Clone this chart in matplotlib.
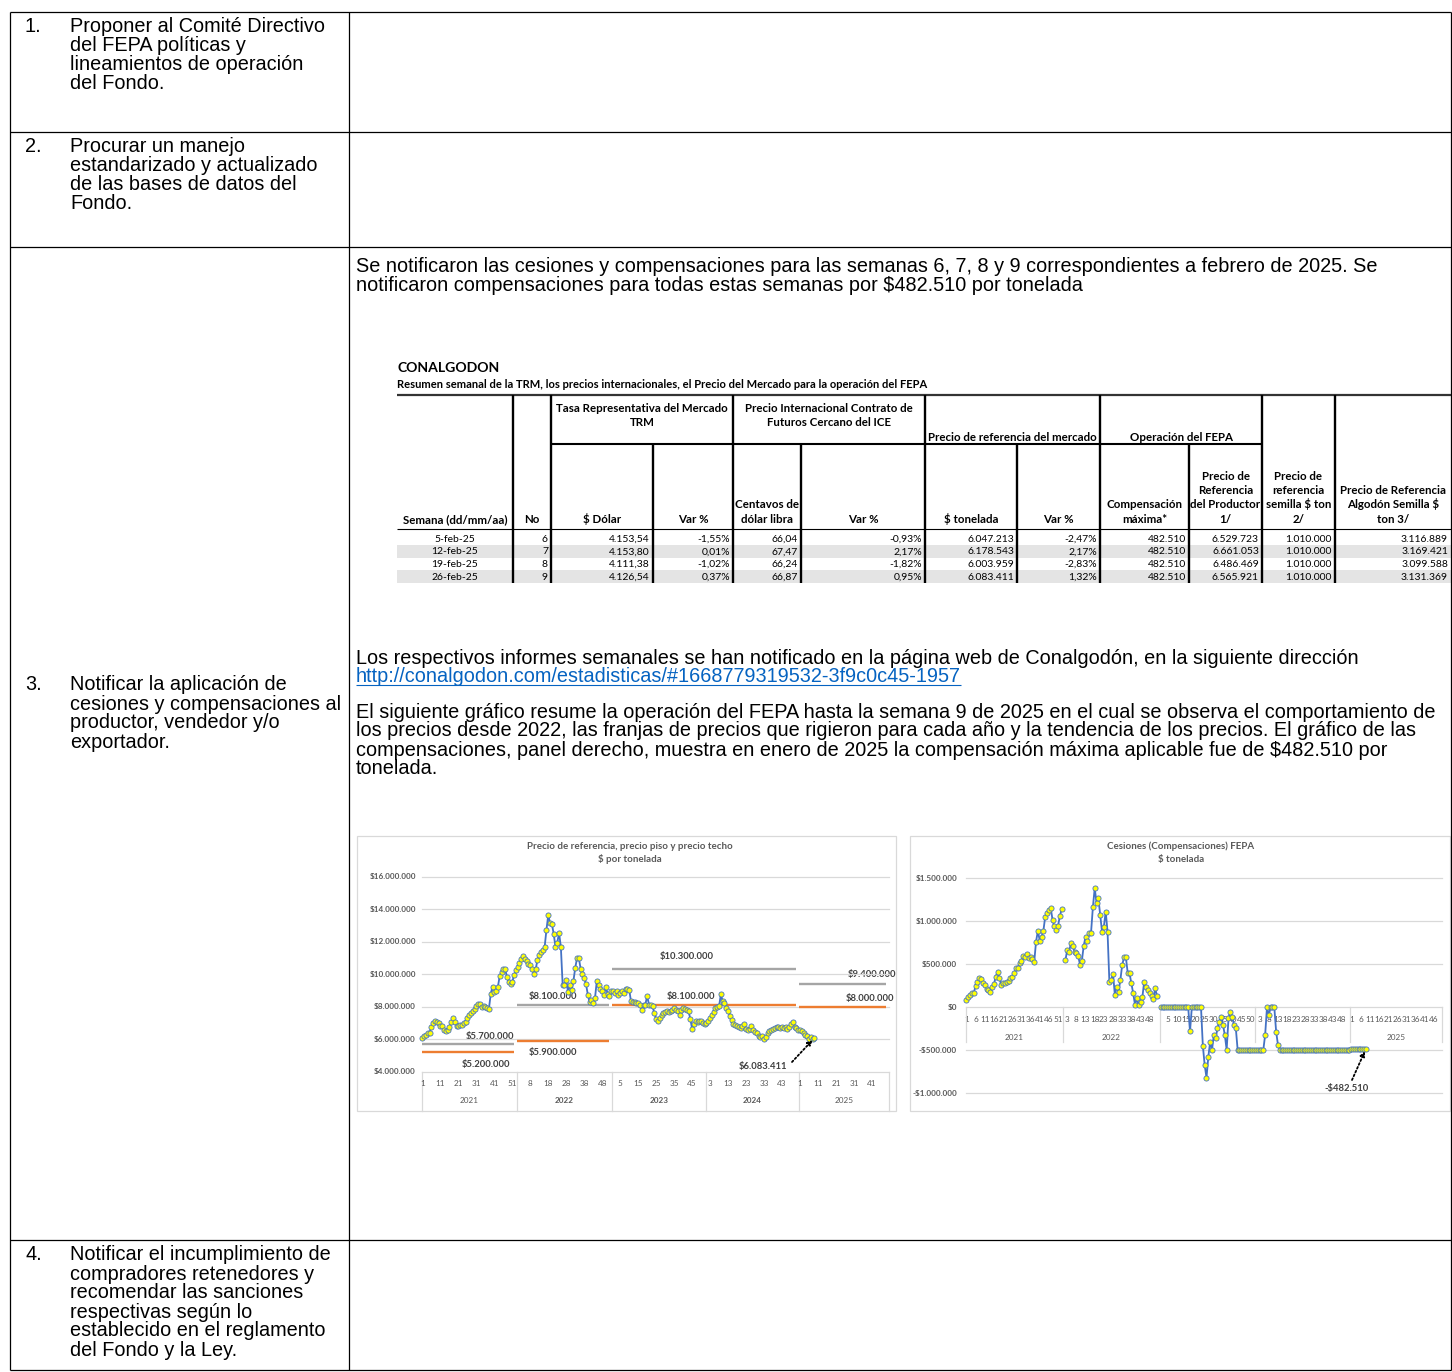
import numpy as np
import matplotlib
matplotlib.use("Agg")
import matplotlib.pyplot as plt
from matplotlib.font_manager import FontProperties
from matplotlib.transforms import Bbox, blended_transform_factory as btf
from matplotlib.patches import Rectangle

plt.rcParams['text.parse_math'] = False

# ------------------------------------------------------------------ data
years = ["2021", "2022", "2023", "2024", "2025"]
weeks_per_year = [53, 53, 52, 52, 50]

# Reference price, millions of $ per ton (weekly)
precio_2021 = [6.06, 6.20, 6.30, 6.37, 6.42, 6.75, 7.00, 7.14, 7.10, 7.00,
               6.85, 6.80, 6.60, 6.50, 6.55, 6.75, 7.05, 7.30, 7.05, 6.80,
               6.85, 6.88, 6.90, 7.00, 7.10, 7.30, 7.50, 7.60, 7.75, 7.85,
               8.05, 8.15, 8.20, 8.00, 8.05, 8.00, 7.92, 7.88, 8.80, 9.25,
               8.90, 9.00, 9.25, 9.90, 10.15, 10.30, 10.35, 9.85, 9.50, 9.40,
               9.55, 9.95, 10.25]
precio_2022 = [10.45, 10.70, 10.95, 11.10, 10.95, 10.80, 10.65, 10.55, 10.30, 10.05,
               10.30, 10.90, 11.20, 11.40, 11.50, 11.70, 12.75, 13.65, 13.15, 13.10,
               12.50, 11.70, 11.95, 12.55, 11.70, 9.35, 9.35, 9.65, 8.90, 9.35,
               9.05, 9.60, 10.40, 11.00, 11.00, 10.35, 10.05, 9.75, 9.40, 8.75,
               8.30, 8.40, 8.25, 8.55, 9.60, 9.35, 9.10, 8.95, 8.75, 9.25,
               8.80, 8.70, 9.00]
precio_2023 = [8.95, 8.86, 8.96, 8.76, 8.85, 8.96, 8.86, 9.10, 9.08, 9.06,
               8.35, 8.29, 8.30, 8.24, 8.24, 8.14, 7.80, 8.14, 8.14, 8.69,
               8.14, 8.10, 8.05, 7.60, 7.27, 7.12, 7.33, 7.50, 7.60, 7.67,
               7.73, 7.67, 7.75, 7.80, 7.94, 7.84, 7.73, 7.53, 7.84, 7.94,
               7.90, 7.84, 7.73, 7.27, 6.65, 6.92, 7.12, 7.10, 7.12, 7.14,
               7.02, 6.95]
precio_2024 = [7.00, 7.15, 7.30, 7.50, 7.70, 7.94, 8.00, 8.05, 8.78, 8.35,
               8.24, 7.94, 7.73, 7.47, 7.18, 6.92, 6.88, 6.82, 6.75, 6.71,
               6.80, 6.92, 6.65, 6.57, 6.65, 6.82, 6.57, 6.45, 6.37, 6.20,
               6.16, 6.24, 6.04, 6.16, 6.40, 6.50, 6.57, 6.65, 6.71, 6.75,
               6.78, 6.71, 6.78, 6.71, 6.78, 6.65, 6.78, 6.92, 7.06, 6.78,
               6.71, 6.61]
precio_2025 = [6.60, 6.50, 6.42, 6.30, 6.20, 6.047213, 6.178543, 6.003959, 6.083411]

# price bands (millions): ceiling / floor for each period
franja_years = [["2021"], ["2022"], ["2023", "2024"], ["2025"]]
techo = [5.7, 8.1, 10.3, 9.4]
piso = [5.2, 5.9, 8.1, 8.0]

# Compensations / cessions, thousands of $ per ton (NaN = no value)
nan = float("nan")
comp_2021 = [85, 125, 140, 170, 165, 250, 300, 345, 330, 280,
             265, 210, 200, 180, 240, 268, 355, 415, 345, 255,
             278, 280, 290, 310, 345, 348, 395, 455, 462, 512,
             535, 598, 590, 615, 572, 588, 562, 530, 765, 890,
             775, 820, 890, 1055, 1100, 1130, 1155, 1015, 940, 900,
             950, 1060, 1145]
comp_2022 = [nan, 545, 667, 647, 744, 713, 647, 628, 597, 492,
             543, 713, 822, 775, 860, 868, 1163, 1384, 1217, 1267,
             1074, 880, 938, 1112, 880, 298, 318, 388, 143, 240,
             182, 318, 492, 581, 581, 403, 395, 279, 163, 27,
             105, 27, 66, 116, 298, 240, 202, 171, 132, 93,
             221, 132, nan]
comp_2023 = [0, 0, 0, 0, 0, 0, 0, 0, 0, 0,
             0, 0, 0, 0, 0, 0, -280, 0, 0, 0,
             0, 0, 0, -446, -670, -818, -574, -400, -496, -322,
             -360, -244, -167, -108, -205, -322, -496, -128, -50, -108,
             -205, -244, -496, -495, -495, -495, -495, -495, -495, -495,
             -495, -495]
comp_2024 = [-495, -495, -495, -495, -495, -322, 0, -90, 0, 0,
             0, -283, -438, -495, -495, -495, -495, -495, -495, -495,
             -495, -495, -495, -495, -495, -495, -495, -495, -495, -495,
             -495, -495, -495, -495, -495, -495, -495, -495, -495, -495,
             -495, -495, -495, -495, -495, -495, -495, -495, -495, -495,
             -495, -495]
comp_2025 = [-482.51, -482.51, -482.51, -482.51, -482.51, -482.51, -482.51, -482.51, -482.51]

# weekly summary table
tabla_semana = ["5-feb-25", "12-feb-25", "19-feb-25", "26-feb-25"]
tabla_no = [6, 7, 8, 9]
tabla_trm = [4153.54, 4153.80, 4111.38, 4126.54]
tabla_trm_var = [-1.55, 0.01, -1.02, 0.37]
tabla_cent = [66.04, 67.47, 66.24, 66.87]
tabla_cent_var = [-0.93, 2.17, -1.82, 0.95]
tabla_ton = [6047213, 6178543, 6003959, 6083411]
tabla_ton_var = [-2.47, 2.17, -2.83, 1.32]
tabla_comp = [482510, 482510, 482510, 482510]
tabla_prod = [6529723, 6661053, 6486469, 6565921]
tabla_semilla = [1010000, 1010000, 1010000, 1010000]
tabla_algodon = [3116889, 3169421, 3099588, 3131369]

col_headers = [["Semana (dd/mm/aa)"], ["No"], ["$ Dólar"], ["Var %"],
               ["Centavos de", "dólar libra"], ["Var %"], ["$ tonelada"], ["Var %"],
               ["Compensación", "máxima*"],
               ["Precio de", "Referencia", "del Productor", "1/"],
               ["Precio de", "referencia", "semilla $ ton", "2/"],
               ["Precio de Referencia", "Algodón Semilla $", "ton 3/"]]
group_headers = [(2, 3, ["Tasa Representativa del Mercado", "TRM"]),
                 (4, 5, ["Precio Internacional Contrato de", "Futuros Cercano del ICE"]),
                 (6, 7, ["Precio de referencia del mercado"]),
                 (8, 9, ["Operación del FEPA"])]

left_items = [("1.", ["Proponer al Comité Directivo", "del FEPA políticas y",
                      "lineamientos de operación", "del Fondo."]),
              ("2.", ["Procurar un manejo", "estandarizado y actualizado",
                      "de las bases de datos del", "Fondo."]),
              ("3.", ["Notificar la aplicación de", "cesiones y compensaciones al",
                      "productor, vendedor y/o", "exportador."]),
              ("4.", ["Notificar el incumplimiento de", "compradores retenedores y",
                      "recomendar las sanciones", "respectivas según lo",
                      "establecido en el reglamento", "del Fondo y la Ley."])]

parrafo1 = ["Se notificaron las cesiones y compensaciones para las semanas 6, 7, 8 y 9 correspondientes a febrero de 2025. Se",
            "notificaron compensaciones para todas estas semanas por $482.510 por tonelada"]
parrafo2 = "Los respectivos informes semanales se han notificado en la página web de Conalgodón, en la siguiente dirección"
url = "http://conalgodon.com/estadisticas/#1668779319532-3f9c0c45-1957"
parrafo3 = ["El siguiente gráfico resume la operación del FEPA hasta la semana 9 de 2025 en el cual se observa el comportamiento de",
            "los precios desde 2022, las franjas de precios que rigieron para cada año y la tendencia de los precios. El gráfico de las",
            "compensaciones, panel derecho, muestra en enero de 2025 la compensación máxima aplicable fue de $482.510 por",
            "tonelada."]

# ------------------------------------------------------------------ helpers
def fmt_int(n):
    return "{:,}".format(int(round(n))).replace(",", ".")

def fmt_dec(x, d=2):
    s = ("{:,." + str(d) + "f}").format(x)
    return s.replace(",", "X").replace(".", ",").replace("X", ".")

def fmt_money(v):
    return ("-$" if v < 0 else "$") + fmt_int(abs(v))

W, H = 1452, 1372
fig = plt.figure(figsize=(W / 100, H / 100), dpi=100, facecolor="white")
page = fig.add_axes([0, 0, 1, 1])
page.set_xlim(0, W)
page.set_ylim(H, 0)
page.axis("off")
renderer = fig.canvas.get_renderer()

def text_w(s, family, weight, size):
    fp = FontProperties(family=family, weight=weight, size=size)
    w, h, d = renderer.get_text_width_height_descent(s, fp, False)
    return w

def fit_size(s, family, weight, target):
    return 10.0 * target / text_w(s, family, weight, 10.0)

DOC = "Liberation Sans"
XL = "Lato"
doc_size = 0.5 * (fit_size(parrafo3[0], DOC, "normal", 1088)
                  + fit_size("cesiones y compensaciones al", DOC, "normal", 267))
tb_bold = fit_size("Precio de referencia del mercado", XL, "bold", 169)
tb_reg = fit_size("3.116.889", XL, "normal", 47)
conal_size = fit_size("CONALGODON", XL, "bold", 102)
sub_size = fit_size("Resumen semanal de la TRM, los precios internacionales, el Precio del Mercado para la operación del FEPA", XL, "bold", 530)
ch_title = fit_size("Precio de referencia, precio piso y precio techo", XL, "bold", 204)
ch_ann = fit_size("$5.700.000", XL, "bold", 49)
ch_tick = fit_size("$1.500.000", XL, "bold", 42)

def T(x, y, s, size, family=DOC, weight="normal", color="black", ha="left", va="baseline", **kw):
    return page.text(x, y, s, fontsize=size, family=family, weight=weight,
                     color=color, ha=ha, va=va, **kw)

def L(x0, y0, x1, y1, lw=0.8, color="black", z=2):
    page.plot([x0, x1], [y0, y1], color=color, lw=lw, solid_capstyle="butt", zorder=z)

# ------------------------------------------------------------------ outer document table
XB0, XB1, XDIV = 10, 1451, 348.5
row_lines = [11.5, 131.5, 247, 1240, 1370]
for y in row_lines:
    L(XB0, y, XB1, y, lw=0.9)
for x in (XB0, XDIV, XB1):
    L(x, row_lines[0], x, row_lines[-1], lw=0.9)

first_base = [32, 152, 690.5, 1260.5]
for (num, lines), yb in zip(left_items, first_base):
    T(25, yb, num, doc_size)
    for k, s in enumerate(lines):
        T(70, yb + 19 * k, s, doc_size)

for k, s in enumerate(parrafo1):
    T(356, 272 + 19 * k, s, doc_size)
T(356, 663.5, parrafo2, doc_size)
T(356, 682.5, url, doc_size, color="#0563C1")
uw = text_w(url, DOC, "normal", doc_size)
L(356, 684.5, 356 + uw, 684.5, lw=0.8, color="#0563C1")
for k, s in enumerate(parrafo3):
    T(356, 717.5 + 19 * k, s, doc_size)

# ------------------------------------------------------------------ inner summary table
T(398, 372, "CONALGODON", conal_size, family=XL, weight="bold")
T(397, 388, "Resumen semanal de la TRM, los precios internacionales, el Precio del Mercado para la operación del FEPA",
  sub_size, family=XL, weight="bold")
edges = [397, 513, 551, 653, 733, 801, 925, 1017, 1100, 1189, 1262, 1335, 1451]
row_edges = [528.5, 545, 557.7, 570.4, 583]
for r in (1, 3):
    page.add_patch(Rectangle((edges[0], row_edges[r]), edges[-1] - edges[0],
                             row_edges[r + 1] - row_edges[r], facecolor="#E4E4E4",
                             edgecolor="none", zorder=1))
L(edges[0], 394.5, edges[-1], 394.5, lw=1.6, color="#333333")
L(edges[2], 444, edges[10], 444, lw=1.5)
L(edges[0], 528.5, edges[-1], 528.5, lw=0.8)
for j in (1, 2, 4, 6, 8, 10, 11):
    L(edges[j], 394.5, edges[j], 583, lw=1.7)
for j in (3, 5, 7, 9):
    L(edges[j], 444, edges[j], 583, lw=1.7)

for c0, c1, lines in group_headers:
    cx = 0.5 * (edges[c0] + edges[c1 + 1])
    bases = [412, 426.5] if len(lines) == 2 else [441]
    for s, yb in zip(lines, bases):
        T(cx, yb, s, tb_bold, family=XL, weight="bold", ha="center")
for j, lines in enumerate(col_headers):
    cx = 0.5 * (edges[j] + edges[j + 1])
    n = len(lines)
    for k, s in enumerate(lines):
        T(cx, 523 - 14.5 * (n - 1 - k), s, tb_bold, family=XL, weight="bold", ha="center")

cols = [tabla_semana,
        [str(v) for v in tabla_no],
        [fmt_dec(v) for v in tabla_trm],
        [fmt_dec(v) + "%" for v in tabla_trm_var],
        [fmt_dec(v) for v in tabla_cent],
        [fmt_dec(v) + "%" for v in tabla_cent_var],
        [fmt_int(v) for v in tabla_ton],
        [fmt_dec(v) + "%" for v in tabla_ton_var],
        [fmt_int(v) for v in tabla_comp],
        [fmt_int(v) for v in tabla_prod],
        [fmt_int(v) for v in tabla_semilla],
        [fmt_int(v) for v in tabla_algodon]]
data_base = [541.5, 554.3, 567, 579.8]
for j, col in enumerate(cols):
    for r, s in enumerate(col):
        if j == 0:
            T(0.5 * (edges[0] + edges[1]), data_base[r], s, tb_reg, family=XL, ha="center")
        else:
            T(edges[j + 1] - 3, data_base[r], s, tb_reg, family=XL, ha="right")

# ------------------------------------------------------------------ charts common
def px_axes(x0, y0, x1, y1):
    ax = fig.add_axes([x0 / W, 1 - y1 / H, (x1 - x0) / W, (y1 - y0) / H])
    ax.axis("off")
    ax.patch.set_visible(False)
    return ax

ncat = sum(weeks_per_year)
week_no = []
year_start = []
for y, n in zip(years, weeks_per_year):
    year_start.append(len(week_no))
    week_no.extend(range(1, n + 1))
GRID = "#D9D9D9"
TXT = "#595959"
ANN = "#404040"
BLUE = "#4472C4"

def frame(x0, y0, x1, y1):
    page.add_patch(Rectangle((x0, y0), x1 - x0, y1 - y0, fill=False, edgecolor=GRID, lw=0.9, zorder=1))
    return Bbox.from_extents(x0, H - y1, x1, H - y0)

def series_line(ax, vals):
    x = np.arange(len(vals))
    ax.plot(x, vals, color=BLUE, lw=1.3, marker="o", ms=3.7, mfc="#FFFF00",
            mec=BLUE, mew=0.6, clip_on=False, zorder=5)

# ------------------------------------------------------------------ left chart
clipL = frame(357, 836, 896, 1111)
LX0, LX1, LY0, LY1 = 421.5, 889.0, 876.7, 1072.0
axL = px_axes(LX0, LY0, LX1, LY1)
axL.set_xlim(-0.5, ncat - 0.5)
axL.set_ylim(4, 16)
for v in range(4, 17, 2):
    axL.axhline(v, color=GRID, lw=0.9, zorder=1, clip_on=False)
tyL = btf(page.transData, axL.transData)
for v in range(4, 17, 2):
    page.text(416, v, fmt_money(v * 1e6), transform=tyL, fontsize=ch_tick, family=XL,
              weight="bold", color=TXT, ha="right", va="center")

precio = precio_2021 + precio_2022 + precio_2023 + precio_2024 + precio_2025
series_line(axL, precio)

band_lbl_pos = [((490, 1036), (486, 1065), "center"),
                ((553, 996), (553, 1053), "center"),
                ((687, 957), (691, 996), "center"),
                ((848, 975), (846, 999), "left")]
for yrs, tv, pv, (ptop, pbot, ha) in zip(franja_years, techo, piso, band_lbl_pos):
    i0 = year_start[years.index(yrs[0])]
    k1 = years.index(yrs[-1])
    i1 = year_start[k1] + weeks_per_year[k1] - 1
    xs = [i0 - 0.5, i1 + 0.5 - 1.7]
    axL.plot(xs, [tv, tv], color="#A5A5A5", lw=1.7, solid_capstyle="butt", zorder=3)
    axL.plot(xs, [pv, pv], color="#ED7D31", lw=1.7, solid_capstyle="butt", zorder=3)
    for (px, py), val in ((ptop, tv), (pbot, pv)):
        t = T(px, py, fmt_money(val * 1e6), ch_ann, family=XL, weight="bold", color=ANN,
              ha=ha, va="center", clip_on=True)
        t.set_clip_box(clipL)

txL = btf(axL.transData, page.transData)
for i in range(0, ncat, 10):
    page.text(i, 1084, str(week_no[i]), transform=txL, fontsize=ch_tick, family=XL,
              color=TXT, ha="center", va="center")
for k, (y, n) in enumerate(zip(years, weeks_per_year)):
    c = year_start[k] + n / 2 - 0.5
    page.text(c, 1100.5, y, transform=txL, fontsize=ch_tick, family=XL,
              weight="bold" if y in ("2022", "2023", "2024") else "normal",
              color=TXT, ha="center", va="center")
for b in year_start + [ncat]:
    page.plot([b - 0.5, b - 0.5], [1072, 1111], transform=txL, color=GRID, lw=0.9)

last_i = len(precio) - 1
T(763, 1066, fmt_money(precio[-1] * 1e6), ch_ann, family=XL, weight="bold", color=ANN,
  ha="center", va="center")
axL.annotate("", xy=(last_i, precio[-1]), xytext=(792, 1062), textcoords=page.transData,
             arrowprops=dict(arrowstyle="-|>", color="black", lw=1.3, linestyle=(0, (1, 1.3)),
                             shrinkA=0, shrinkB=2, mutation_scale=7), zorder=6)
T(629.5, 846.7, "Precio de referencia, precio piso y precio techo", ch_title, family=XL,
  weight="bold", color=TXT, ha="center", va="center")
T(629.5, 859.5, "$ por tonelada", ch_title, family=XL, weight="bold", color=TXT,
  ha="center", va="center")

# ------------------------------------------------------------------ right chart
clipR = frame(910, 836, 1450, 1111)
RX0, RX1, RY0, RY1 = 965.5, 1442.0, 878.3, 1093.3
axR = px_axes(RX0, RY0, RX1, RY1)
axR.set_xlim(-0.5, ncat - 0.5)
axR.set_ylim(-1000, 1500)
for v in range(-1000, 1501, 500):
    axR.axhline(v, color=GRID, lw=0.9, zorder=1, clip_on=False)
tyR = btf(page.transData, axR.transData)
for v in range(-1000, 1501, 500):
    page.text(957, v, fmt_money(v * 1e3), transform=tyR, fontsize=ch_tick, family=XL,
              weight="bold", color=TXT, ha="right", va="center")

comp = comp_2021 + comp_2022 + comp_2023 + comp_2024 + comp_2025
series_line(axR, comp)

txR = btf(axR.transData, page.transData)
for i in range(0, ncat, 5):
    if week_no[i] > 52:
        continue
    page.text(i, 1019, str(week_no[i]), transform=txR, fontsize=ch_tick, family=XL,
              color=TXT, ha="center", va="center", zorder=0)
for k, (y, n) in enumerate(zip(years, weeks_per_year)):
    if y in ("2023", "2024"):
        continue
    c = year_start[k] + n / 2 - 0.5
    page.text(c, 1037, y, transform=txR, fontsize=ch_tick, family=XL,
              color=TXT, ha="center", va="center")
for b in year_start + [ncat]:
    page.plot([b - 0.5, b - 0.5], [1007.3, 1042], transform=txR, color=GRID, lw=0.9)

last_j = len(comp) - 1
T(1347, 1088, fmt_money(comp[-1] * 1e3), ch_ann, family=XL, weight="bold", color=ANN,
  ha="center", va="center")
axR.annotate("", xy=(last_j, comp[-1]), xytext=(1352, 1080), textcoords=page.transData,
             arrowprops=dict(arrowstyle="-|>", color="black", lw=1.3, linestyle=(0, (1, 1.3)),
                             shrinkA=0, shrinkB=2, mutation_scale=7), zorder=6)
T(1181, 846.7, "Cesiones (Compensaciones) FEPA", ch_title, family=XL, weight="bold",
  color=TXT, ha="center", va="center")
T(1181, 859.5, "$ tonelada", ch_title, family=XL, weight="bold", color=TXT,
  ha="center", va="center")

fig.savefig("out.png", dpi=100, facecolor="white")
